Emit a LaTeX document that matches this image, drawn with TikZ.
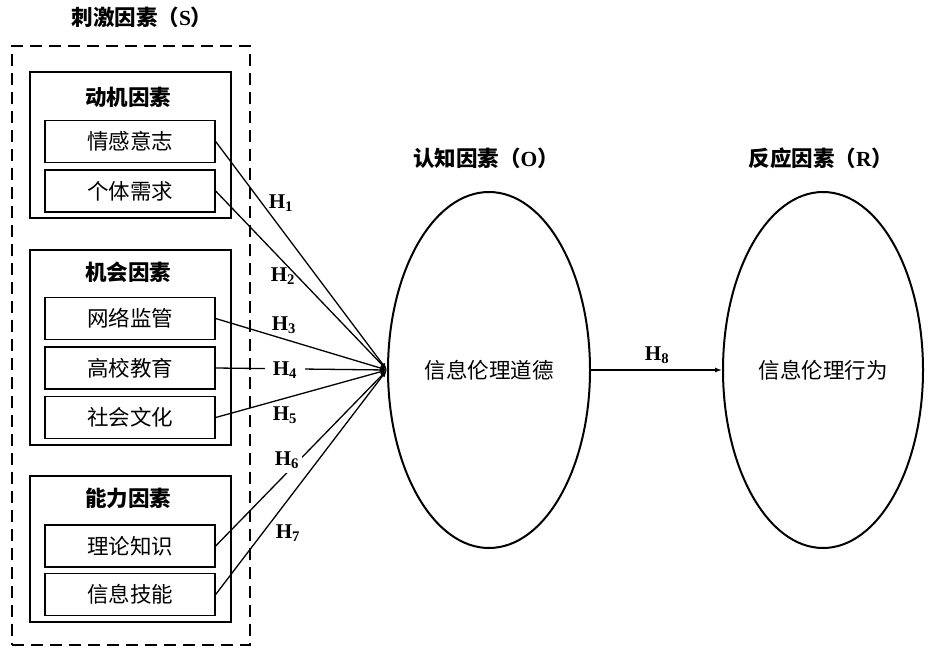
\documentclass[tikz,border=0pt]{standalone}
\usepackage{fontspec}
\setmainfont{Liberation Serif}
\newfontfamily\cjk{Noto Sans CJK SC}
\usetikzlibrary{arrows.meta,shapes.geometric}
\tikzset{
  itembox/.style={draw, line width=1.3pt, minimum width=170pt, minimum height=42pt, inner sep=0pt, font=\cjk\fontsize{21.5}{24}\selectfont},
  groupbox/.style={draw, line width=1.3pt, minimum width=201pt, inner sep=0pt},
  grouptitle/.style={font=\cjk\fontsize{21.5}{24}\selectfont\bfseries},
  headtitle/.style={font=\cjk\fontsize{21.5}{24}\selectfont\bfseries},
  hlabel/.style={font=\bfseries\fontsize{21}{23}\selectfont, inner sep=1pt},
  hgap/.style={hlabel, fill=white, inner xsep=8pt},
  link/.style={line width=1.3pt, -{Latex[length=7pt,width=5pt]}},
  oval/.style={draw, ellipse, line width=2pt, inner sep=0pt, font=\cjk\fontsize{21.5}{24}\selectfont}
}
\begin{document}
\begin{tikzpicture}[x=1pt,y=-1pt]
\useasboundingbox (0,0) rectangle (933,648);
% outer dashed box
\node (sbox) [draw, line width=2pt, dash pattern=on 12pt off 7pt, minimum width=238pt, minimum height=599pt, inner sep=0pt] at (131,345.5) {};
\node (stitle) [headtitle] at (142,17) {刺激因素（{\rmfamily S}）};
% groups
\node (g1) [groupbox, minimum height=146pt] at (130.5,145) {};
\node (g2) [groupbox, minimum height=195pt] at (130.5,347.5) {};
\node (g3) [groupbox, minimum height=146pt] at (130.5,549) {};
\node (g1t) [grouptitle] at (128,97) {动机因素};
\node (g2t) [grouptitle] at (128,272) {机会因素};
\node (g3t) [grouptitle] at (128,498) {能力因素};
% items
\node (a1) [itembox] at (130,141.5) {情感意志};
\node (a2) [itembox] at (130,191) {个体需求};
\node (b1) [itembox] at (130,318.5) {网络监管};
\node (b2) [itembox] at (130,368) {高校教育};
\node (b3) [itembox] at (130,417.5) {社会文化};
\node (c1) [itembox] at (130,546) {理论知识};
\node (c2) [itembox] at (130,594.5) {信息技能};
% ellipses
\node (o) [oval, minimum width=202pt, minimum height=356pt] at (489,370) {信息伦理道德};
\node (r) [oval, minimum width=200pt, minimum height=356pt] at (823,370) {信息伦理行为};
\node (ot) [headtitle] at (486,158) {认知因素（{\rmfamily O}）};
\node (rt) [headtitle] at (821,158) {反应因素（{\rmfamily R}）};
\coordinate (conv) at (387,370);
% links
\draw[link] (a1.east) -- (conv);
\draw[link] (a2.east) -- (conv);
\draw[link] (b1.east) -- (conv);
\draw[link] (b2.east) -- (conv);
\draw[link] (b3.east) -- (conv);
\draw[link] (c1.east) -- (conv);
\draw[link] (c2.east) -- (conv);
\draw[link] (o.east) -- (r.west);
% labels
\node (h1) [hlabel] at (281,203) {H\textsubscript{1}};
\node (h2) [hlabel] at (283,276) {H\textsubscript{2}};
\node (h3) [hlabel] at (284,325) {H\textsubscript{3}};
\node (h4) [hgap] at (285,370) {H\textsubscript{4}};
\node (h5) [hlabel] at (285,415) {H\textsubscript{5}};
\node (h6) [hgap, inner xsep=3pt, inner ysep=4pt] at (287,460) {H\textsubscript{6}};
\node (h7) [hlabel] at (288,533) {H\textsubscript{7}};
\node (h8) [hlabel] at (657,355) {H\textsubscript{8}};
\end{tikzpicture}
\end{document}
